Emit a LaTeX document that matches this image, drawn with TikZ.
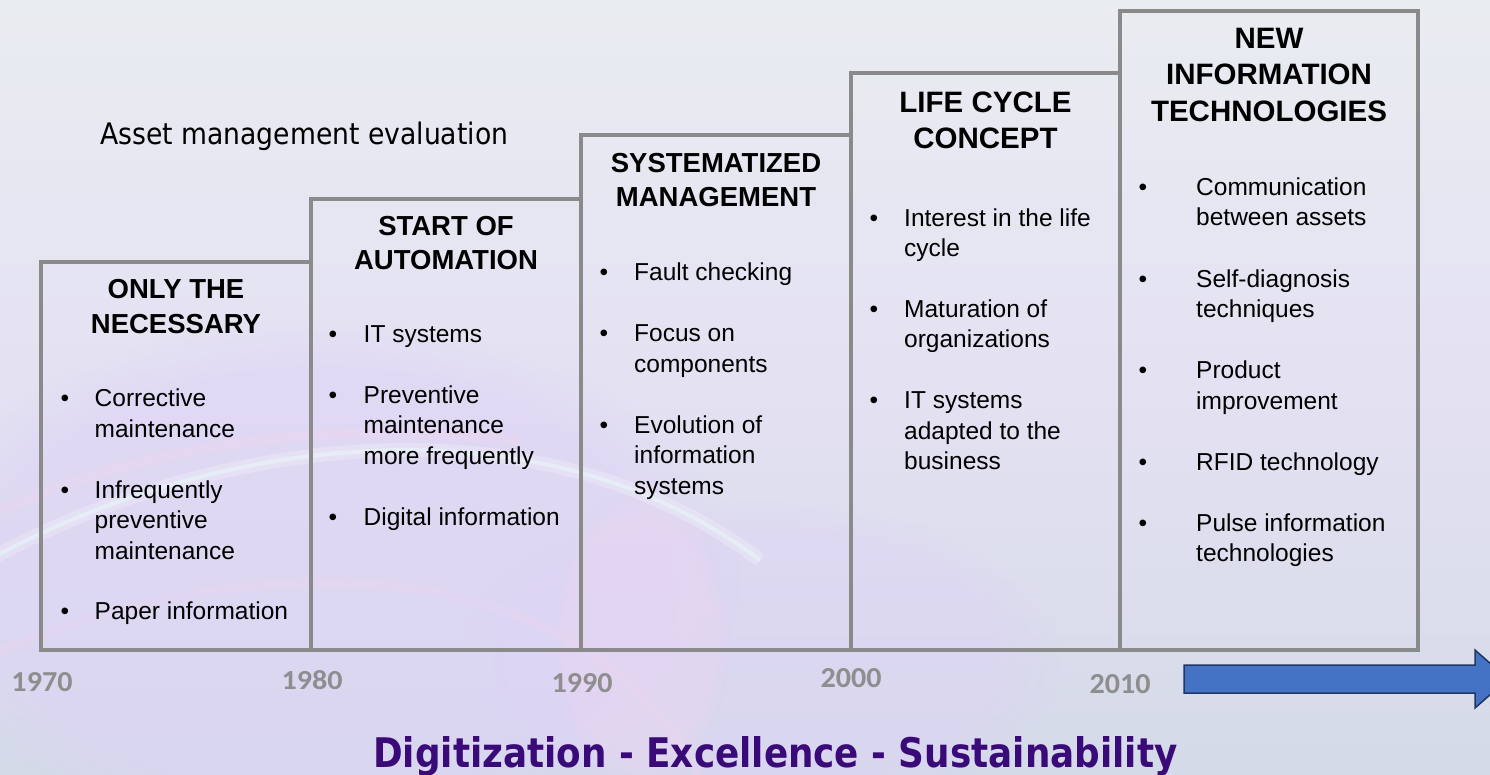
\documentclass[tikz,border=0pt]{standalone}
\usepackage{fontspec}
\usepackage{graphicx}
\setmainfont{Liberation Sans}
\newfontfamily\dvsans{DejaVu Sans}
\newfontfamily\carlito{Carlito}
\usetikzlibrary{fadings}

\definecolor{bgtop}{HTML}{E9ECF1}
\definecolor{bgmid}{HTML}{E4E1F2}
\definecolor{bgbot}{HTML}{D4DAE8}
\definecolor{lavglow}{HTML}{DED3F7}
\definecolor{pinkglow}{HTML}{F2D6F0}
\definecolor{cyanglow}{HTML}{E6FAFA}
\definecolor{framegray}{HTML}{8A8A8A}
\definecolor{yeargray}{HTML}{8E8E8E}
\definecolor{mottopurple}{HTML}{3A0A78}
\definecolor{arrowblue}{HTML}{4472C4}
\definecolor{arrowedge}{HTML}{1F3864}

\tikzset{
  frameline/.style={draw=framegray, line width=4.5pt, line join=miter},
  ttlA/.style={font=\bfseries\fontsize{27.5}{33}\selectfont, anchor=base, inner sep=0pt},
  ttlB/.style={font=\bfseries\fontsize{29.5}{36}\selectfont, anchor=base, inner sep=0pt},
  body/.style={font=\fontsize{24.5}{30}\selectfont, anchor=base west, inner sep=0pt},
  bul/.style={font=\fontsize{24.5}{30}\selectfont, anchor=base, inner sep=0pt},
  yearlbl/.style={text=yeargray, anchor=south, inner sep=0pt},
}
\newcommand{\yr}[1]{\resizebox{61pt}{19pt}{\carlito\bfseries #1}}

\begin{document}
\begin{tikzpicture}[x=1pt,y=-1pt]
  \useasboundingbox (0,0) rectangle (1490,774);
  \clip (0,0) rectangle (1490,774);

  % soft background
  \fill[top color=bgtop, bottom color=bgbot, middle color=bgmid] (0pt,0pt) rectangle (1490pt,-774pt);
  \fill[lavglow, opacity=0.55, path fading=circle with fuzzy edge 20 percent] (320,580) ellipse (420 and 260);
  \fill[lavglow, opacity=0.45, path fading=circle with fuzzy edge 20 percent] (760,660) ellipse (300 and 160);
  \fill[pinkglow, opacity=0.3, path fading=circle with fuzzy edge 20 percent] (640,640) ellipse (90 and 150);
  % light sweeping arcs
  \draw[white, line width=14pt, opacity=0.22] (-20,565) .. controls (180,450) and (520,380) .. (760,560);
  \draw[cyanglow, line width=4pt, opacity=0.5] (-20,565) .. controls (180,450) and (520,380) .. (760,560);
  \draw[pinkglow, line width=10pt, opacity=0.35] (-20,520) .. controls (150,440) and (330,420) .. (520,440);
  \draw[pinkglow, line width=10pt, opacity=0.25] (-20,660) .. controls (200,560) and (560,520) .. (700,774);

  % stepped frame
  \coordinate (f0) at (41,650);
  \coordinate (s1) at (41,262);
  \coordinate (s2) at (311,199);
  \coordinate (s3) at (581,135);
  \coordinate (s4) at (851,73);
  \coordinate (s5) at (1120,11);
  \coordinate (e5) at (1418,11);
  \coordinate (f5) at (1418,650);
  \draw[framegray!70!black, line width=4.5pt, opacity=0.25, shift={(1.5,2)}]
    (f0) -- (s1) -| (s2) -| (s3) -| (s4) -| (s5) -- (e5) -- (f5) -- cycle;
  \draw[frameline] (f0) -- (s1) -| (s2) -| (s3) -| (s4) -| (s5) -- (e5) -- (f5) -- cycle;
  \draw[frameline] (s2) -- (311,650);
  \draw[frameline] (s3) -- (581,650);
  \draw[frameline] (s4) -- (851,650);
  \draw[frameline] (s5) -- (1120,650);

  % caption
  \node[anchor=base west, inner sep=0pt] (cap) at (100,144)
    {\resizebox{408pt}{22.5pt}{\dvsans Asset management evaluation}};

  % 1970s
  \node[ttlA] (t1a) at (176,298) {ONLY THE};
  \node[ttlA] (t1b) at (176,333) {NECESSARY};
  \node[bul] (b1a) at (65,406) {•};
  \node[body] (l1a) at (94.5,406) {Corrective};
  \node[body] (l1b) at (94.5,437) {maintenance};
  \node[bul] (b1b) at (65,498) {•};
  \node[body] (l1c) at (94.5,498) {Infrequently};
  \node[body] (l1d) at (94.5,528) {preventive};
  \node[body] (l1e) at (94.5,559) {maintenance};
  \node[bul] (b1c) at (65,619) {•};
  \node[body] (l1f) at (94.5,619) {Paper information};

  % 1980s
  \node[ttlA] (t2a) at (446,235) {START OF};
  \node[ttlA] (t2b) at (446,269) {AUTOMATION};
  \node[bul] (b2a) at (333,342) {•};
  \node[body] (l2a) at (363.5,342) {IT systems};
  \node[bul] (b2b) at (333,403) {•};
  \node[body] (l2b) at (363.5,403) {Preventive};
  \node[body] (l2c) at (363.5,433.5) {maintenance};
  \node[body] (l2d) at (363.5,464) {more frequently};
  \node[bul] (b2c) at (333,525) {•};
  \node[body] (l2e) at (363.5,525) {Digital information};

  % 1990s
  \node[ttlA] (t3a) at (716,172) {SYSTEMATIZED};
  \node[ttlA] (t3b) at (716,206) {MANAGEMENT};
  \node[bul] (b3a) at (604,280) {•};
  \node[body] (l3a) at (634,280) {Fault checking};
  \node[bul] (b3b) at (604,341) {•};
  \node[body] (l3b) at (634,341) {Focus on};
  \node[body] (l3c) at (634,372) {components};
  \node[bul] (b3c) at (604,433) {•};
  \node[body] (l3d) at (634,433) {Evolution of};
  \node[body] (l3e) at (634,463) {information};
  \node[body] (l3f) at (634,494) {systems};

  % 2000s
  \node[ttlB] (t4a) at (985.5,112) {LIFE CYCLE};
  \node[ttlB] (t4b) at (985.5,148) {CONCEPT};
  \node[bul] (b4a) at (874,226) {•};
  \node[body] (l4a) at (904,226) {Interest in the life};
  \node[body] (l4b) at (904,256) {cycle};
  \node[bul] (b4b) at (874,317) {•};
  \node[body] (l4c) at (904,317) {Maturation of};
  \node[body] (l4d) at (904,347) {organizations};
  \node[bul] (b4c) at (874,408) {•};
  \node[body] (l4e) at (904,408) {IT systems};
  \node[body] (l4f) at (904,439) {adapted to the};
  \node[body] (l4g) at (904,469) {business};

  % 2010s
  \node[ttlB] (t5a) at (1269,48) {NEW};
  \node[ttlB] (t5b) at (1269,84) {INFORMATION};
  \node[ttlB] (t5c) at (1269,121) {TECHNOLOGIES};
  \node[bul] (b5a) at (1143,195) {•};
  \node[body] (l5a) at (1196,195) {Communication};
  \node[body] (l5b) at (1196,225.5) {between assets};
  \node[bul] (b5b) at (1143,287) {•};
  \node[body] (l5c) at (1196,287) {Self-diagnosis};
  \node[body] (l5d) at (1196,317) {techniques};
  \node[bul] (b5c) at (1143,378) {•};
  \node[body] (l5e) at (1196,378) {Product};
  \node[body] (l5f) at (1196,409) {improvement};
  \node[bul] (b5d) at (1143,470) {•};
  \node[body] (l5g) at (1196,470) {RFID technology};
  \node[bul] (b5e) at (1143,531) {•};
  \node[body] (l5h) at (1196,531) {Pulse information};
  \node[body] (l5i) at (1196,561) {technologies};

  % decade marks
  \node[yearlbl] (y1970) at (42,692) {\yr{1970}};
  \node[yearlbl] (y1980) at (312,689.5) {\yr{1980}};
  \node[yearlbl] (y1990) at (582,693) {\yr{1990}};
  \node[yearlbl] (y2000) at (851,687.5) {\yr{2000}};
  \node[yearlbl] (y2010) at (1120,693.5) {\yr{2010}};

  % forward arrow
  \draw[draw=arrowedge, fill=arrowblue, line width=1.5pt, line join=miter]
    (1184,665) -- (1475,665) -- (1475,650) -- (1508,679) -- (1475,708) -- (1475,693) -- (1184,693) -- cycle;

  % motto
  \node[anchor=base west, inner sep=0pt, text=mottopurple] (motto) at (373,767)
    {\resizebox{804pt}{31pt}{\dvsans\bfseries Digitization - Excellence - Sustainability}};
\end{tikzpicture}
\end{document}
